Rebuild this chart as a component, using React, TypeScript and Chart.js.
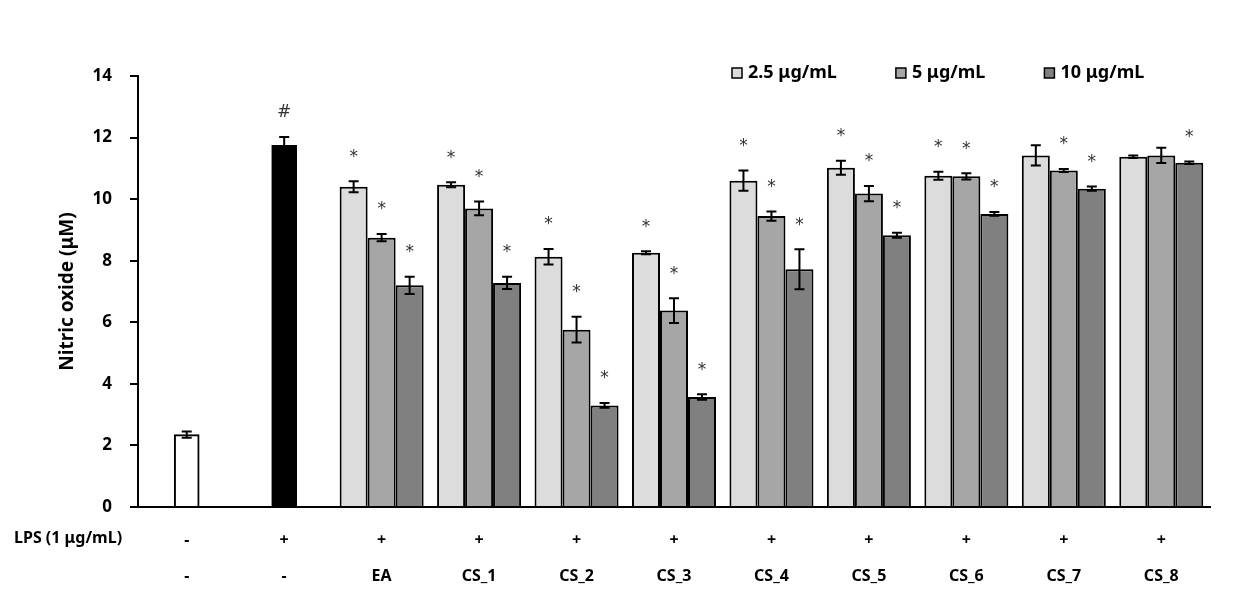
import React, { useEffect, useRef } from "react";
import { Chart, registerables } from "chart.js";

Chart.register(...registerables);

const sampleLabels = ["-", "-", "EA", "CS_1", "CS_2", "CS_3", "CS_4", "CS_5", "CS_6", "CS_7", "CS_8"];
const lpsLabels = ["-", "+", "+", "+", "+", "+", "+", "+", "+", "+", "+"];

const controlValues = [2.35, 11.75, null, null, null, null, null, null, null, null, null];
const controlErr = [0.1, 0.27, 0, 0, 0, 0, 0, 0, 0, 0, 0];
const controlMarks = ["", "#", "", "", "", "", "", "", "", "", ""];

const conc25 = [null, null, 10.40, 10.47, 8.13, 8.26, 10.60, 11.02, 10.76, 11.42, 11.38];
const err25 = [0, 0, 0.18, 0.08, 0.25, 0.05, 0.33, 0.23, 0.13, 0.33, 0.04];
const marks25 = ["", "", "*", "*", "*", "*", "*", "*", "*", "", ""];

const conc5 = [null, null, 8.75, 9.70, 5.76, 6.38, 9.45, 10.18, 10.74, 10.93, 11.42];
const err5 = [0, 0, 0.12, 0.22, 0.42, 0.40, 0.15, 0.25, 0.10, 0.05, 0.25];
const marks5 = ["", "", "*", "*", "*", "*", "*", "*", "*", "*", ""];

const conc10 = [null, null, 7.20, 7.28, 3.30, 3.57, 7.72, 8.83, 9.52, 10.34, 11.18];
const err10 = [0, 0, 0.28, 0.20, 0.08, 0.09, 0.65, 0.08, 0.06, 0.07, 0.04];
const marks10 = ["", "", "*", "*", "*", "*", "*", "*", "*", "*", "*"];

const seriesNames = ["2.5 μg/mL", "5 μg/mL", "10 μg/mL"];
const seriesColors = ["#dcdcdc", "#a6a6a6", "#808080"];
const controlColors = ["#ffffff", "#000000"];

const yTicks = [0, 2, 4, 6, 8, 10, 12, 14];

const FONT = "'Noto Sans', 'DejaVu Sans', sans-serif";

const errorBarPlugin = {
  id: "errorBars",
  afterDatasetsDraw(chart: any) {
    const ctx = chart.ctx;
    const y = chart.scales.y;
    chart.data.datasets.forEach((ds: any, i: number) => {
      const meta = chart.getDatasetMeta(i);
      meta.data.forEach((el: any, j: number) => {
        const v = ds.data[j];
        if (v === null || v === undefined) return;
        const e = ds.errors[j] || 0;
        const top = y.getPixelForValue(v + e);
        const bot = y.getPixelForValue(v - e);
        const x = el.x;
        ctx.save();
        ctx.strokeStyle = "#000";
        ctx.lineWidth = 2;
        ctx.beginPath();
        ctx.moveTo(x, top);
        ctx.lineTo(x, bot);
        ctx.moveTo(x - 5, top);
        ctx.lineTo(x + 5, top);
        ctx.moveTo(x - 5, bot);
        ctx.lineTo(x + 5, bot);
        ctx.stroke();
        const m = ds.marks[j];
        if (m) {
          ctx.fillStyle = "#333";
          ctx.font = "17px 'DejaVu Sans', sans-serif";
          ctx.textAlign = "center";
          ctx.textBaseline = "middle";
          ctx.fillText(m, x, top - 24);
        }
        ctx.restore();
      });
    });
  },
};

const extrasPlugin = {
  id: "extras",
  afterDraw(chart: any) {
    const ctx = chart.ctx;
    ctx.save();
    // LPS row title
    ctx.fillStyle = "#000";
    ctx.font = `bold 16px ${FONT}`;
    ctx.textAlign = "left";
    ctx.textBaseline = "middle";
    ctx.fillText("LPS (1 μg/mL)", 14, 538);
    // legend
    ctx.font = `bold 18px ${FONT}`;
    let x = 732;
    const yc = 73;
    seriesNames.forEach((name, i) => {
      ctx.fillStyle = seriesColors[i];
      ctx.fillRect(x, yc - 5, 10, 10);
      ctx.strokeStyle = "#000";
      ctx.lineWidth = 1.5;
      ctx.strokeRect(x, yc - 5, 10, 10);
      ctx.fillStyle = "#000";
      ctx.fillText(name, x + 16, yc);
      x += 16 + ctx.measureText(name).width + 59;
    });
    ctx.restore();
  },
};

export default function App() {
  const ref = useRef<HTMLCanvasElement>(null);
  useEffect(() => {
    document.body.style.margin = "0";
    Chart.defaults.color = "#000";
    Chart.defaults.font.family = FONT;
    const chart = new Chart(ref.current as HTMLCanvasElement, {
      type: "bar",
      data: {
        labels: sampleLabels.map((s, i) => [lpsLabels[i], s]),
        datasets: [
          {
            label: "control",
            data: controlValues,
            backgroundColor: controlColors,
            borderColor: "#000",
            borderWidth: 2,
            grouped: false,
            barThickness: 25,
            errors: controlErr,
            marks: controlMarks,
          } as any,
          {
            label: seriesNames[0],
            data: conc25,
            backgroundColor: seriesColors[0],
            borderColor: "#000",
            borderWidth: 2,
            errors: err25,
            marks: marks25,
          } as any,
          {
            label: seriesNames[1],
            data: conc5,
            backgroundColor: seriesColors[1],
            borderColor: "#000",
            borderWidth: 2,
            errors: err5,
            marks: marks5,
          } as any,
          {
            label: seriesNames[2],
            data: conc10,
            backgroundColor: seriesColors[2],
            borderColor: "#000",
            borderWidth: 2,
            errors: err10,
            marks: marks10,
          } as any,
        ],
      },
      options: {
        animation: false,
        responsive: true,
        maintainAspectRatio: false,
        categoryPercentage: 0.862,
        barPercentage: 1,
        layout: { padding: { left: 0, right: 30, top: 76, bottom: 0 } },
        plugins: {
          legend: { display: false },
          tooltip: { enabled: false },
        },
        scales: {
          x: {
            grid: { display: false },
            border: { display: true, color: "#000", width: 2 },
            ticks: {
              padding: 7,
              color: "#000",
              font: { size: 16, weight: "bold", lineHeight: 2.25 },
              maxRotation: 0,
              autoSkip: false,
            },
            afterFit: (s: any) => {
              s.height = 88;
            },
          },
          y: {
            min: 0,
            max: 14,
            afterBuildTicks: (s: any) => {
              s.ticks = yTicks.map((v) => ({ value: v }));
            },
            grid: { drawOnChartArea: false, tickLength: 8, color: "#000", lineWidth: 2 },
            border: { display: true, color: "#000", width: 2 },
            ticks: {
              padding: 18,
              color: "#000",
              font: { size: 17, weight: "bold" },
            },
            title: {
              display: true,
              text: "Nitric oxide (μM)",
              color: "#000",
              font: { size: 19, weight: "bold" },
              padding: { top: 56, bottom: 0 },
            },
            afterFit: (s: any) => {
              s.width = 138;
            },
          },
        },
      },
      plugins: [errorBarPlugin, extrasPlugin],
    });
    return () => chart.destroy();
  }, []);
  return (
    <div style={{ position: "relative", width: 1240, height: 595 }}>
      <canvas ref={ref} />
    </div>
  );
}
